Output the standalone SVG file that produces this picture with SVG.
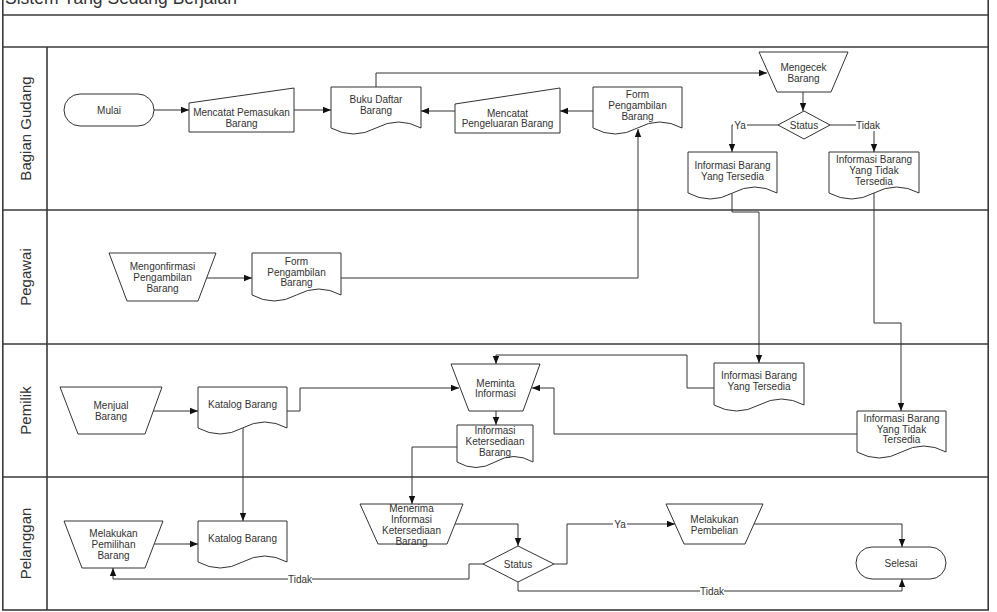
<svg xmlns="http://www.w3.org/2000/svg" width="997" height="612" viewBox="0 0 997 612">
<defs>
<style>
text{font-family:"Liberation Sans",Arial,sans-serif;fill:#333;}
.t{font-size:10px;text-anchor:middle;}
.title{font-size:17.5px;}
.lane{font-size:15px;text-anchor:middle;}
.frame{fill:none;stroke:#3a3a3a;stroke-width:1.6;}
.shape{fill:#fff;stroke:#333;stroke-width:1;}
.conn{fill:none;stroke:#333;stroke-width:1;}
.lbl{fill:#fff;stroke:none;}
</style>
<marker id="arr" viewBox="0 0 10 10" refX="10" refY="5" markerWidth="8" markerHeight="8" markerUnits="userSpaceOnUse" orient="auto">
<path d="M0,1 L10,5 L0,9 Z" fill="#111"/>
</marker>
</defs>
<rect x="0" y="0" width="997" height="612" fill="#fff"/>
<g id="frame">
<rect class="frame" x="2.8" y="-30" width="985.4" height="640"/>
<line class="frame" x1="2.8" y1="15" x2="988.2" y2="15"/>
<line class="frame" x1="2.8" y1="47" x2="988.2" y2="47"/>
<line class="frame" x1="47" y1="47" x2="47" y2="610"/>
<line class="frame" x1="2.8" y1="210" x2="988.2" y2="210"/>
<line class="frame" x1="2.8" y1="344" x2="988.2" y2="344"/>
<line class="frame" x1="2.8" y1="477" x2="988.2" y2="477"/>
<text class="title" x="5" y="4">Sistem Yang Sedang Berjalan</text>
<text class="lane" x="25" y="128.5" transform="rotate(-90 25 128.5)" dy="5.5">Bagian Gudang</text>
<text class="lane" x="25" y="277" transform="rotate(-90 25 277)" dy="5.5">Pegawai</text>
<text class="lane" x="25" y="410.5" transform="rotate(-90 25 410.5)" dy="5.5">Pemilik</text>
<text class="lane" x="25" y="543.5" transform="rotate(-90 25 543.5)" dy="5.5">Pelanggan</text>
</g>
<g id="connectors">
<path class="conn" marker-end="url(#arr)" d="M154,110 H189"/>
<path class="conn" marker-end="url(#arr)" d="M294,110 H331"/>
<path class="conn" marker-end="url(#arr)" d="M376,87 V73 H767"/>
<path class="conn" marker-end="url(#arr)" d="M593,111 H560"/>
<path class="conn" marker-end="url(#arr)" d="M455,111 H421"/>
<path class="conn" marker-end="url(#arr)" d="M341,278 H638 V129"/>
<path class="conn" marker-end="url(#arr)" d="M803,92 V111"/>
<path class="conn" marker-end="url(#arr)" d="M778,125 H732 V152"/>
<path class="conn" marker-end="url(#arr)" d="M830,125 H874 V152"/>
<path class="conn" marker-end="url(#arr)" d="M732,193 V212 H759 V363"/>
<path class="conn" marker-end="url(#arr)" d="M874,193 V323 H901 V411"/>
<path class="conn" marker-end="url(#arr)" d="M207,278 H252"/>
<path class="conn" marker-end="url(#arr)" d="M153,411 H198"/>
<path class="conn" marker-end="url(#arr)" d="M287,411 H300 V388 H459"/>
<path class="conn" marker-end="url(#arr)" d="M714,388 H687 V355 H496 V364"/>
<path class="conn" marker-end="url(#arr)" d="M857,434 H554 V388 H532"/>
<path class="conn" marker-end="url(#arr)" d="M496,411 V425"/>
<path class="conn" marker-end="url(#arr)" d="M457,447 H412 V504"/>
<path class="conn" marker-end="url(#arr)" d="M243,428 V521"/>
<path class="conn" marker-end="url(#arr)" d="M154,544 H198"/>
<path class="conn" marker-end="url(#arr)" d="M455,524 H518 V546"/>
<path class="conn" marker-end="url(#arr)" d="M483,564 H469 V579 H113 V568"/>
<path class="conn" marker-end="url(#arr)" d="M518,582 V591 H902 V579"/>
<path class="conn" marker-end="url(#arr)" d="M554,564 H567 V524 H675"/>
<path class="conn" marker-end="url(#arr)" d="M754,524 H902 V547"/>
<rect class="lbl" x="733" y="119" width="14" height="12"/>
<text class="t" x="740" y="128.5">Ya</text>
<rect class="lbl" x="856" y="119" width="24" height="12"/>
<text class="t" x="868" y="128.5">Tidak</text>
<rect class="lbl" x="613" y="518" width="14" height="12"/>
<text class="t" x="620" y="527.5">Ya</text>
<rect class="lbl" x="288" y="573" width="24" height="12"/>
<text class="t" x="300" y="582.5">Tidak</text>
<rect class="lbl" x="700" y="585" width="24" height="12"/>
<text class="t" x="712" y="594.5">Tidak</text>
</g>
<g id="mulai">
<rect class="shape" x="64" y="94" width="90" height="32" rx="16"/>
<text class="t" x="109" y="113.5">Mulai</text>
</g>
<g id="mencatat-pemasukan">
<polygon class="shape" points="189,103 294,88 294,132 189,132"/>
<text class="t" x="241.5" y="115.5">Mencatat Pemasukan</text>
<text class="t" x="241.5" y="126.5">Barang</text>
</g>
<g id="buku-daftar">
<path class="shape" d="M331,87 H421 V128 Q398.5,116 376,128 Q353.5,140 331,128 Z"/>
<text class="t" x="376" y="102.5">Buku Daftar</text>
<text class="t" x="376" y="113.5">Barang</text>
</g>
<g id="mencatat-pengeluaran">
<polygon class="shape" points="455,104 560,88 560,133 455,133"/>
<text class="t" x="507.5" y="116.5">Mencatat</text>
<text class="t" x="507.5" y="127">Pengeluaran Barang</text>
</g>
<g id="form-gudang">
<path class="shape" d="M593,87 H682 V128 Q659.75,116 637.5,128 Q615.25,140 593,128 Z"/>
<text class="t" x="637.5" y="97.5">Form</text>
<text class="t" x="637.5" y="108.5">Pengambilan</text>
<text class="t" x="637.5" y="119.5">Barang</text>
</g>
<g id="mengecek">
<polygon class="shape" points="759,52 848,52 831,92 777,92"/>
<text class="t" x="803.5" y="70.5">Mengecek</text>
<text class="t" x="803.5" y="81.5">Barang</text>
</g>
<g id="status-gudang">
<polygon class="shape" points="804,111 830,125 804,139 778,125"/>
<text class="t" x="804" y="128.5">Status</text>
</g>
<g id="info-tersedia-gudang">
<path class="shape" d="M688,152 H777 V193 Q754.75,181 732.5,193 Q710.25,205 688,193 Z"/>
<text class="t" x="732.5" y="168.5">Informasi Barang</text>
<text class="t" x="732.5" y="179.5">Yang Tersedia</text>
</g>
<g id="info-tidak-gudang">
<path class="shape" d="M829,152 H919 V193 Q896.5,181 874,193 Q851.5,205 829,193 Z"/>
<text class="t" x="874" y="162.5">Informasi Barang</text>
<text class="t" x="874" y="173.5">Yang Tidak</text>
<text class="t" x="874" y="184.5">Tersedia</text>
</g>
<g id="mengonfirmasi">
<polygon class="shape" points="109,253 216,253 198,301 127,301"/>
<text class="t" x="162.5" y="269.5">Mengonfirmasi</text>
<text class="t" x="162.5" y="280.5">Pengambilan</text>
<text class="t" x="162.5" y="291.5">Barang</text>
</g>
<g id="form-pegawai">
<path class="shape" d="M252,253 H341 V295 Q318.75,283 296.5,295 Q274.25,307 252,295 Z"/>
<text class="t" x="296.5" y="264.5">Form</text>
<text class="t" x="296.5" y="275.5">Pengambilan</text>
<text class="t" x="296.5" y="286">Barang</text>
</g>
<g id="menjual">
<polygon class="shape" points="60,387 162,387 145,434 78,434"/>
<text class="t" x="111" y="408.5">Menjual</text>
<text class="t" x="111" y="419.5">Barang</text>
</g>
<g id="katalog-pemilik">
<path class="shape" d="M198,387 H287 V428 Q264.75,416 242.5,428 Q220.25,440 198,428 Z"/>
<text class="t" x="242.5" y="407.5">Katalog Barang</text>
</g>
<g id="meminta">
<polygon class="shape" points="451,364 540,364 523,411 469,411"/>
<text class="t" x="495.5" y="386.5">Meminta</text>
<text class="t" x="495.5" y="397">Informasi</text>
</g>
<g id="info-ketersediaan">
<path class="shape" d="M457,425 H533 V462 Q514,451 495,462 Q476,473 457,462 Z"/>
<text class="t" x="495" y="433.5">Informasi</text>
<text class="t" x="495" y="444.5">Ketersediaan</text>
<text class="t" x="495" y="455.5">Barang</text>
</g>
<g id="info-tersedia-pemilik">
<path class="shape" d="M714,363 H804 V405 Q781.5,393 759,405 Q736.5,417 714,405 Z"/>
<text class="t" x="759" y="378.5">Informasi Barang</text>
<text class="t" x="759" y="389.5">Yang Tersedia</text>
</g>
<g id="info-tidak-pemilik">
<path class="shape" d="M857,411 H946 V452 Q923.75,440 901.5,452 Q879.25,464 857,452 Z"/>
<text class="t" x="901.5" y="422">Informasi Barang</text>
<text class="t" x="901.5" y="432.5">Yang Tidak</text>
<text class="t" x="901.5" y="443">Tersedia</text>
</g>
<g id="pemilihan">
<polygon class="shape" points="64,521 163,521 145,568 82,568"/>
<text class="t" x="113.5" y="536.5">Melakukan</text>
<text class="t" x="113.5" y="547.5">Pemilihan</text>
<text class="t" x="113.5" y="558.5">Barang</text>
</g>
<g id="katalog-pelanggan">
<path class="shape" d="M198,521 H287 V562 Q264.75,550 242.5,562 Q220.25,574 198,562 Z"/>
<text class="t" x="242.5" y="541.5">Katalog Barang</text>
</g>
<g id="menerima">
<polygon class="shape" points="360,504 463,504 447,544 378,544"/>
<text class="t" x="411.5" y="511.5">Menerima</text>
<text class="t" x="411.5" y="522.5">Informasi</text>
<text class="t" x="411.5" y="533.5">Ketersediaan</text>
<text class="t" x="411.5" y="544.5">Barang</text>
</g>
<g id="status-pelanggan">
<polygon class="shape" points="518,546 554,564 518,582 483,564"/>
<text class="t" x="518" y="567.5">Status</text>
</g>
<g id="pembelian">
<polygon class="shape" points="666,504 763,504 745,544 684,544"/>
<text class="t" x="714.5" y="522.5">Melakukan</text>
<text class="t" x="714.5" y="533.5">Pembelian</text>
</g>
<g id="selesai">
<rect class="shape" x="856" y="547" width="90" height="32" rx="16"/>
<text class="t" x="901" y="566.5">Selesai</text>
</g>
</svg>
